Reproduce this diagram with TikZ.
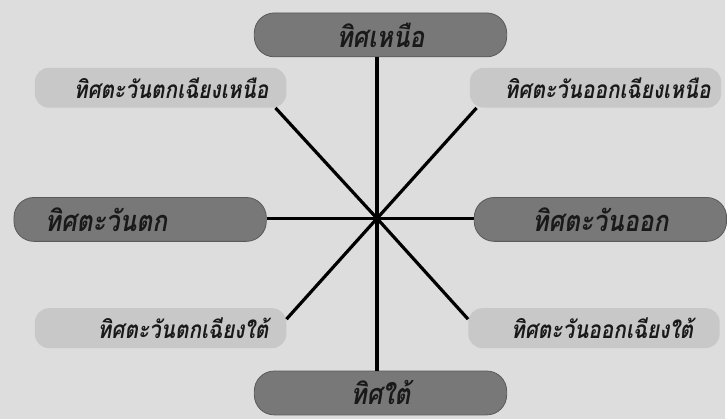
\documentclass[tikz,border=0pt]{standalone}
\usepackage{fontspec}
\newfontfamily\thaifont[Script=Thai,FakeStretch=0.85]{Loma}
\usetikzlibrary{positioning}
\definecolor{bggray}{RGB}{221,221,221}
\definecolor{maingray}{RGB}{120,120,120}
\definecolor{sidegray}{RGB}{200,200,200}
\definecolor{inkgray}{RGB}{25,25,25}

\begin{document}
\begin{tikzpicture}[x=1pt,y=-1pt,main/.style={draw=black!65,line width=0.8pt,fill=maingray,rounded corners=20pt,minimum width=253pt,minimum height=44pt,inner sep=0pt,text=inkgray,font=\thaifont\bfseries\itshape\fontsize{29}{29}\selectfont},side/.style={fill=sidegray,rounded corners=14pt,minimum width=252pt,minimum height=40pt,inner sep=0pt,text=inkgray,font=\thaifont\bfseries\itshape\fontsize{24.5}{24.5}\selectfont},ray/.style={line width=3.2pt}]
\fill[bggray] (0,0) rectangle (727,420);
\coordinate (O) at (378,219);
\node[main] (N) at (381.5,35) {ทิศเหนือ};
\node[main] (S) at (381.5,394) {ทิศใต้};
\node[main,text width=191pt,align=left] (W) at (140.5,220) {ทิศตะวันตก};
\node[main] (E) at (602,220) {ทิศตะวันออก};
\node[side,text width=216pt,align=right] (NW) at (161,88) {ทิศตะวันตกเฉียงเหนือ};
\node[side,text width=182pt,align=right] (NE) at (597,88) {ทิศตะวันออกเฉียงเหนือ};
\node[side,text width=216pt,align=right] (SW) at (161,329) {ทิศตะวันตกเฉียงใต้};
\node[side,text width=199pt,align=right] (SE) at (595.5,329) {ทิศตะวันออกเฉียงใต้};
\draw[ray] (O) -- (O |- N.south);
\draw[ray] (O) -- (O |- S.north);
\draw[ray] (O) -- (W.east |- O);
\draw[ray] (O) -- (E.west |- O);
\draw[ray] (O) -- ([xshift=-11pt]NW.south east);
\draw[ray] (O) -- ([xshift=7pt]NE.south west);
\draw[ray] (O) -- ([yshift=9pt]SW.east);
\draw[ray] (O) -- ([yshift=9pt]SE.west);
\end{tikzpicture}
\end{document}
